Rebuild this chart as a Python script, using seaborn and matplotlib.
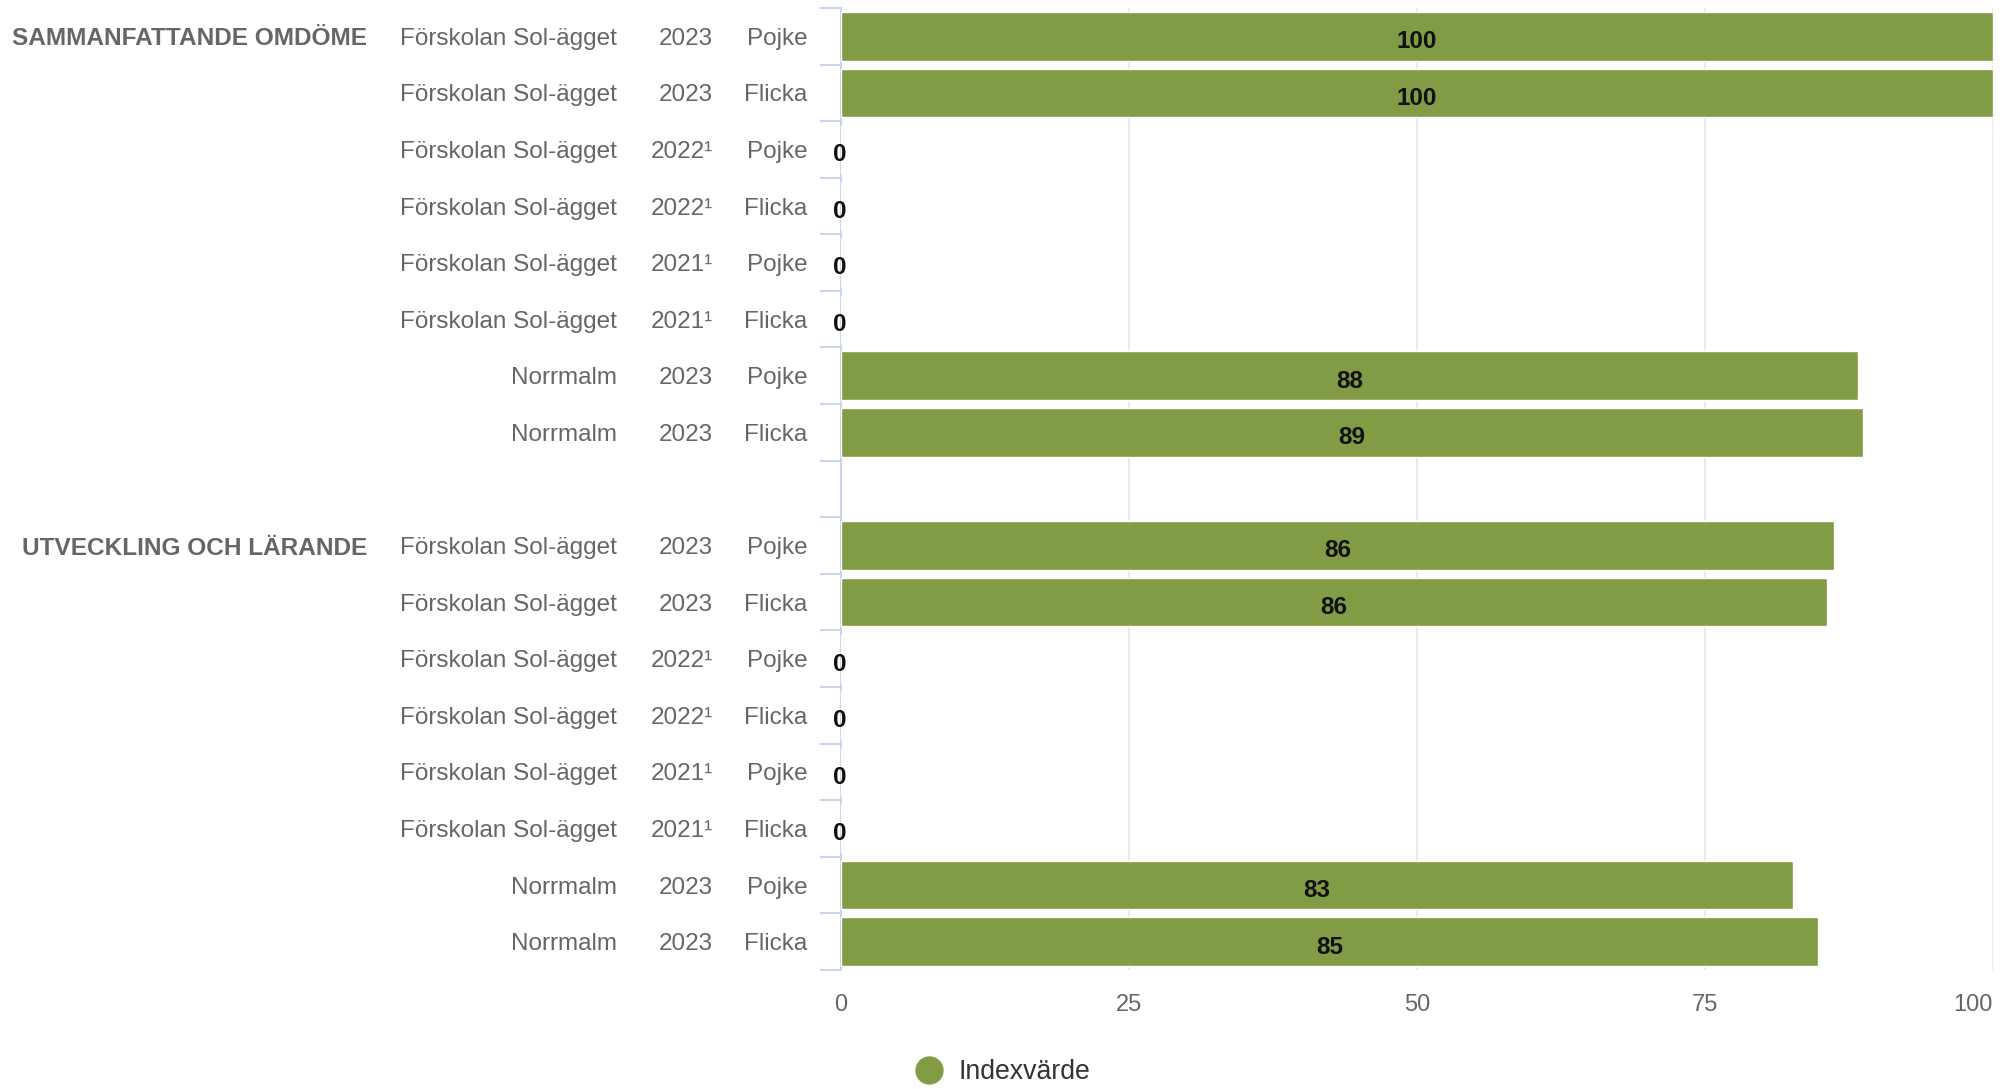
import numpy as np
import pandas as pd
import seaborn as sns
import matplotlib.pyplot as plt
import matplotlib.transforms as mtransforms
from matplotlib.lines import Line2D

# data
groups = ["SAMMANFATTANDE OMDÖME", "UTVECKLING OCH LÄRANDE"]
units = ["Förskolan Sol-ägget"] * 6 + ["Norrmalm"] * 2
years = ["2023", "2023", "2022¹", "2022¹", "2021¹", "2021¹", "2023", "2023"]
genders = ["Pojke", "Flicka"] * 4
values_sammanfattande = [100, 100, 0, 0, 0, 0, 88.3, 88.7]
values_utveckling = [86.2, 85.6, 0, 0, 0, 0, 82.6, 84.8]
all_values = [values_sammanfattande, values_utveckling]
x_ticks = [0, 25, 50, 75, 100]
legend_label = "Indexvärde"

green = "#819c44"
text_grey = "#666666"

sns.set_style("white")
plt.rcParams['font.family'] = ['Liberation Sans', 'DejaVu Sans']

# one empty row between the groups
rows = []
for gi, grp in enumerate(groups):
    for i in range(len(units)):
        rows.append({"pos": gi * (len(units) + 1) + i, "group": grp, "unit": units[i],
                     "year": years[i], "gender": genders[i], "value": all_values[gi][i]})
df = pd.DataFrame(rows)
n_rows = len(groups) * (len(units) + 1) - 1

fig = plt.figure(figsize=(20.13, 10.89), dpi=100)
ax = fig.add_axes([0.4178, 0.1093, 0.5723, 0.8834])

sns.barplot(data=df, x="value", y="pos", orient="h", native_scale=True, color=green,
            width=0.86, edgecolor="white", linewidth=1, saturation=1, ax=ax, zorder=3)

ax.set_xlim(0, 100)
ax.set_ylim(n_rows - 0.5, -0.5)
ax.set_xlabel("")
ax.set_ylabel("")

# grid and axis lines
for s in ["top", "right", "bottom"]:
    ax.spines[s].set_visible(False)
ax.spines["left"].set_color("#ccd6eb")
ax.spines["left"].set_linewidth(1.5)
ax.set_xticks(x_ticks)
ax.set_xticklabels([str(t) for t in x_ticks])
ax.get_xticklabels()[-1].set_horizontalalignment("right")
ax.grid(axis="x", color="#e6e6e6", linewidth=1.2, zorder=0)
ax.tick_params(axis="x", bottom=False, length=0, pad=17, labelsize=17, labelcolor=text_grey)
ax.set_yticks(np.arange(-0.5, n_rows, 1.0))
ax.set_yticklabels([])
ax.tick_params(axis="y", left=True, length=15, width=1.5, color="#ccd6eb", pad=0)

# category labels in columns
trans = mtransforms.blended_transform_factory(fig.transFigure, ax.transData)
for _, r in df.iterrows():
    y = r["pos"]
    ax.text(0.4012, y, r["gender"], transform=trans, ha="right", va="center_baseline",
            fontsize=17.5, color=text_grey)
    ax.text(0.3540, y, r["year"], transform=trans, ha="right", va="center_baseline",
            fontsize=17.5, color=text_grey)
    ax.text(0.3065, y, r["unit"], transform=trans, ha="right", va="center_baseline",
            fontsize=17.5, color=text_grey)
for gi, grp in enumerate(groups):
    ax.text(0.1825, gi * (len(units) + 1), grp, transform=trans, ha="right",
            va="center_baseline", fontsize=17.6, fontweight="bold", color=text_grey)

# data labels
for _, r in df.iterrows():
    v = r["value"]
    x = v / 2 if v > 0 else -0.15
    ax.text(x, r["pos"] + 0.05, f"{v:.0f}", ha="center", va="center_baseline",
            fontsize=17.5, fontweight="bold", color="#111111", zorder=5)

handle = Line2D([], [], marker="o", linestyle="", color=green, markersize=19.4)
fig.legend(handles=[handle], labels=[legend_label], loc="center left",
           bbox_to_anchor=(0.4550, 0.0156), frameon=False, borderpad=0, borderaxespad=0,
           handlelength=1.0, handletextpad=0.6, fontsize=19.2, labelcolor="#333333")

fig.savefig("out.png", dpi=100)
